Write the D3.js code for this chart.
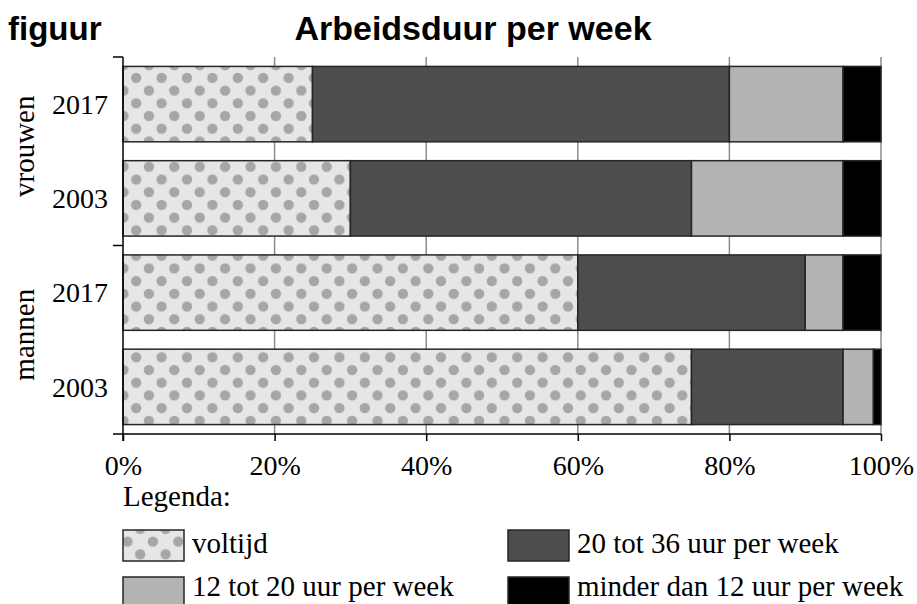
<!DOCTYPE html>
<html>
<head>
<meta charset="utf-8">
<script src="https://cdnjs.cloudflare.com/ajax/libs/d3/7.8.5/d3.min.js"></script>
<style>
  body { margin: 0; background: #fff; }
  svg { display: block; }
</style>
</head>
<body>
<div id="chart-area"></div>
<script>
// data
var groups = ["vrouwen", "mannen"];
var rows = [
    { group: "vrouwen", year: "2017" },
    { group: "vrouwen", year: "2003" },
    { group: "mannen", year: "2017" },
    { group: "mannen", year: "2003" }
];
var categories = ["voltijd", "20 tot 36 uur per week", "12 tot 20 uur per week", "minder dan 12 uur per week"];
var voltijd   = [25, 30, 60, 75];
var uur20_36  = [55, 45, 30, 20];
var uur12_20  = [15, 20, 5, 4];
var minder12  = [5, 5, 5, 1];
var xTicks = [0, 20, 40, 60, 80, 100];

var series = [voltijd, uur20_36, uur12_20, minder12];
var fills = ["url(#dots)", "#4d4d4d", "#b3b3b3", "#000"];
var serif = "Liberation Serif, Times New Roman, serif";
var sans = "Liberation Sans, Arial, sans-serif";

var margin = { left: 123, right: 36, top: 57, bottom: 170 };
var W = 917, H = 604;
var width = W - margin.left - margin.right,
    height = H - margin.top - margin.bottom;

var svg = d3.select("#chart-area").append("svg")
    .attr("width", W)
    .attr("height", H);

// dotted pattern for voltijd
var defs = svg.append("defs");
var pat = defs.append("pattern")
    .attr("id", "dots")
    .attr("patternUnits", "userSpaceOnUse")
    .attr("x", 127.5).attr("y", 59)
    .attr("width", 25.4).attr("height", 25.4);
pat.append("rect").attr("width", 25.4).attr("height", 25.4).attr("fill", "#e6e6e6");
[[0, 0], [25.4, 0], [0, 25.4], [25.4, 25.4], [12.7, 12.7]].forEach(function(p) {
    pat.append("circle").attr("cx", p[0]).attr("cy", p[1]).attr("r", 5.2).attr("fill", "#a6a6a6");
});

// titles
svg.append("text")
    .attr("x", 8).attr("y", 40)
    .attr("font-family", sans)
    .attr("font-weight", "bold")
    .attr("font-size", 33)
    .text("figuur");
svg.append("text")
    .attr("x", 473).attr("y", 40)
    .attr("text-anchor", "middle")
    .attr("font-family", sans)
    .attr("font-weight", "bold")
    .attr("font-size", 34)
    .text("Arbeidsduur per week");

var g = svg.append("g")
    .attr("transform", "translate(" + margin.left + "," + margin.top + ")");

var x = d3.scaleLinear().domain([0, 100]).range([0, width]);
var y = d3.scaleBand()
    .domain(d3.range(rows.length))
    .range([0, height])
    .paddingInner(0.2)
    .paddingOuter(0.1);

// gridlines
g.selectAll(".grid")
    .data(xTicks.slice(1))
    .enter().append("line")
    .attr("x1", d => x(d)).attr("x2", d => x(d))
    .attr("y1", 0).attr("y2", height)
    .attr("stroke", "#8c8c8c")
    .attr("stroke-width", 1.5);

// stacked bars
var stacked = [];
rows.forEach(function(r, i) {
    var start = 0;
    series.forEach(function(s, k) {
        stacked.push({ row: i, k: k, x0: start, x1: start + s[i] });
        start += s[i];
    });
});

g.selectAll(".bar")
    .data(stacked)
    .enter().append("rect")
    .attr("x", d => x(d.x0))
    .attr("y", d => y(d.row))
    .attr("width", d => x(d.x1) - x(d.x0))
    .attr("height", y.bandwidth())
    .attr("fill", d => fills[d.k])
    .attr("stroke", "#262626")
    .attr("stroke-width", 1.5);

// x axis
var xAxis = d3.axisBottom(x)
    .tickValues(xTicks)
    .tickSize(7)
    .tickFormat(d => d + "%");
var xg = g.append("g")
    .attr("transform", "translate(0," + height + ")")
    .call(xAxis);
xg.select(".domain").remove();
xg.append("line")
    .attr("x1", -10).attr("x2", width)
    .attr("stroke", "#000").attr("stroke-width", 1.5);
xg.selectAll(".tick line").attr("stroke", "#000").attr("stroke-width", 1.5);
xg.selectAll(".tick text")
    .attr("y", 41)
    .attr("dy", 0)
    .attr("fill", "#000")
    .attr("font-family", serif)
    .attr("font-size", 28);

// y axis line with group ticks
g.append("line")
    .attr("x1", 0).attr("x2", 0)
    .attr("y1", 0).attr("y2", height + 7)
    .attr("stroke", "#000").attr("stroke-width", 1.5);
var groupTicks = [0, height / 2];
g.selectAll(".gtick")
    .data(groupTicks)
    .enter().append("line")
    .attr("x1", -10).attr("x2", 0)
    .attr("y1", d => d).attr("y2", d => d)
    .attr("stroke", "#000").attr("stroke-width", 1.5);

// year labels
g.selectAll(".year")
    .data(rows)
    .enter().append("text")
    .attr("x", -15)
    .attr("y", (d, i) => y(i) + y.bandwidth() / 2)
    .attr("dy", "0.35em")
    .attr("text-anchor", "end")
    .attr("font-family", serif)
    .attr("font-size", 28)
    .text(d => d.year);

// group labels (rotated)
groups.forEach(function(gr, i) {
    var cy = height / 4 + i * height / 2 - 5;
    g.append("text")
        .attr("transform", "translate(-89," + cy + ") rotate(-90)")
        .attr("text-anchor", "middle")
        .attr("font-family", serif)
        .attr("font-size", 29)
        .text(gr);
});

// legend
var legend = svg.append("g");
legend.append("text")
    .attr("x", 123).attr("y", 506)
    .attr("font-family", serif)
    .attr("font-size", 29)
    .text("Legenda:");
var legPos = [[123, 530], [508, 530], [123, 577], [508, 577]];
var legBase = [553, 553, 596, 596];
categories.forEach(function(c, k) {
    legend.append("rect")
        .attr("x", legPos[k][0]).attr("y", legPos[k][1])
        .attr("width", 61).attr("height", 31)
        .attr("fill", fills[k])
        .attr("stroke", "#262626")
        .attr("stroke-width", 1.5);
    legend.append("text")
        .attr("x", legPos[k][0] + 69).attr("y", legBase[k])
        .attr("font-family", serif)
        .attr("font-size", 29)
        .text(c);
});
</script>
</body>
</html>
